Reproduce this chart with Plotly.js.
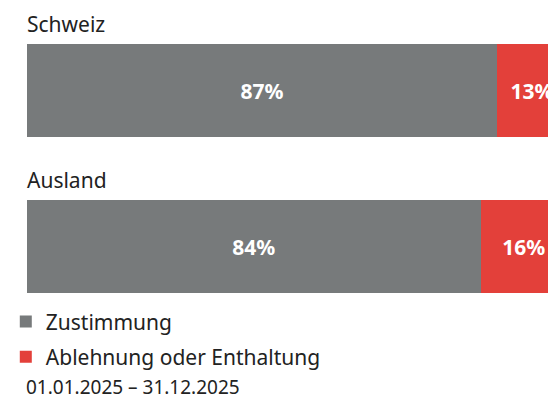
<!DOCTYPE html>
<html>
<head>
<meta charset="utf-8">
<script src="https://cdn.plot.ly/plotly-3.0.1.min.js"></script>
<style>html,body{margin:0;padding:0;background:#fff;}#chart{width:548px;height:406px;}</style>
</head>
<body>
<div id="chart"></div>
<script>
var categories = ['Schweiz', 'Ausland'];
var zustimmung = [87, 84];
var ablehnung = [13, 16];
var seriesNames = ['Zustimmung', 'Ablehnung oder Enthaltung'];
var periodLabel = '01.01.2025 – 31.12.2025';

var grey = '#777a7b';
var red = '#e3403a';
var fontFam = '"Noto Sans", "Open Sans", sans-serif';

function pct(v) { return v.map(function (d) { return d + '%'; }); }

var traces = [
  {
    type: 'bar', orientation: 'h', name: seriesNames[0], legendgroup: 'a',
    y: categories, x: zustimmung, text: pct(zustimmung),
    textposition: 'inside', insidetextanchor: 'middle', constraintext: 'none',
    textfont: { color: '#ffffff', size: 21, family: fontFam, weight: 'bold' },
    marker: { color: grey }, hoverinfo: 'none', width: 0.596
  },
  {
    type: 'bar', orientation: 'h', name: seriesNames[1], legendgroup: 'b',
    y: categories, x: ablehnung, text: pct(ablehnung),
    textposition: 'inside', insidetextanchor: 'middle', constraintext: 'none',
    textfont: { color: '#ffffff', size: 21, family: fontFam, weight: 'bold' },
    marker: { color: red }, hoverinfo: 'none', width: 0.596
  }
];

var annotations = categories.map(function (c, i) {
  return {
    text: c, xref: 'paper', x: 0, xanchor: 'left', xshift: -2, yref: 'y', y: i - 0.298,
    yanchor: 'bottom', yshift: 4, showarrow: false,
    font: { family: fontFam, size: 21, color: '#222222' }
  };
});
annotations.push({
  text: periodLabel, xref: 'paper', x: 0, xanchor: 'left', xshift: -3, yref: 'paper', y: 0,
  yanchor: 'bottom', yshift: 4, showarrow: false,
  font: { family: fontFam, size: 19, color: '#222222' }
});

var layout = {
  width: 548, height: 406,
  margin: { l: 27, r: 0, t: 0, b: 0 },
  paper_bgcolor: '#ffffff', plot_bgcolor: '#ffffff',
  barmode: 'stack', bargap: 0,
  showlegend: true,
  legend: {
    x: -0.0407, xanchor: 'left', y: 0.258, yanchor: 'top',
    traceorder: 'grouped', tracegroupgap: 5, itemwidth: 30,
    font: { family: fontFam, size: 21, color: '#222222' },
    bgcolor: 'rgba(0,0,0,0)'
  },
  xaxis: { range: [0, 96.48], showgrid: false, zeroline: false, showticklabels: false, showline: false, fixedrange: true },
  yaxis: { type: 'category', categoryorder: 'array', categoryarray: categories, range: [2.022, -0.580], showgrid: false, zeroline: false, showticklabels: false, showline: false, fixedrange: true },
  annotations: annotations
};

Plotly.newPlot('chart', traces, layout, { displayModeBar: false, staticPlot: true });
</script>
</body>
</html>
